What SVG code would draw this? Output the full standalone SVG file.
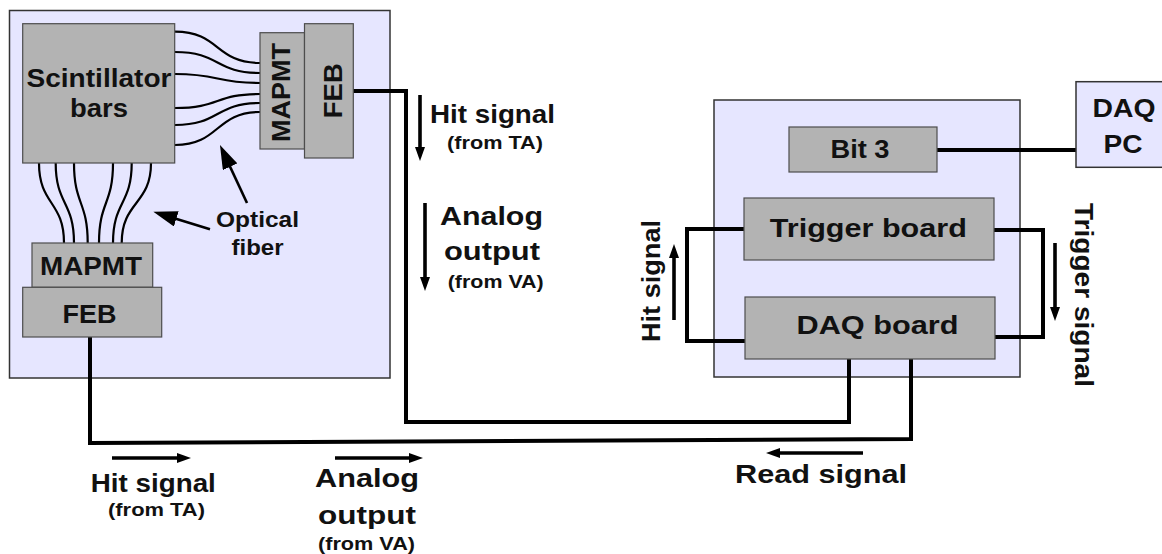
<svg xmlns="http://www.w3.org/2000/svg" width="1162" height="554" viewBox="0 0 1162 554">
<style>
.bg{fill:#ffffff}
.panel{fill:#e6e6ff;stroke:#333333;stroke-width:1.5}
.box{fill:#b3b3b3;stroke:#4d4d4d;stroke-width:1.2}
.wire{fill:none;stroke:#000000;stroke-width:4;stroke-linejoin:miter}
.fiber{fill:none;stroke:#000000;stroke-width:2.2}
.sig{fill:none;stroke:#000000;stroke-width:3.6}
.ptr{fill:none;stroke:#000000;stroke-width:2.6}
text{font-family:"Liberation Sans",Arial,sans-serif;font-weight:bold;fill:#111111;text-anchor:middle}
.lg{font-size:26px}
.sm{font-size:19px}
.md{font-size:22px}
</style>
<defs>
<marker id="ah" viewBox="0 0 14 10" markerWidth="14" markerHeight="10" refX="8" refY="5" orient="auto" markerUnits="userSpaceOnUse">
<path d="M0,0 L14,5 L0,10 z" fill="#000"/>
</marker>
<marker id="bh" viewBox="0 0 24 16" markerWidth="24" markerHeight="16" refX="14" refY="8" orient="auto" markerUnits="userSpaceOnUse">
<path d="M0,0 L24,8 L0,16 z" fill="#000"/>
</marker>
</defs>
<rect class="bg" x="0" y="0" width="1162" height="554"/>

<g id="detector-panel">
<rect class="panel" x="9.5" y="10.5" width="380.5" height="367.5"/>
</g>
<g id="readout-panel">
<rect class="panel" x="714" y="100" width="306" height="277"/>
</g>

<g id="connectors">
<path class="wire" d="M353,91 H406 V422 H849 V359"/>
<path class="wire" d="M90,337 V443 L911,439 V359"/>
<path class="wire" d="M937,150 H1076"/>
<path class="wire" d="M744,229 H687 V341 H745"/>
<path class="wire" d="M994,230 H1043 V337 H995"/>
<g id="fibers-right">
<path class="fiber" d="M175,31.7 C220,31.7 215,63 260,63"/>
<path class="fiber" d="M175,52 C220,52 215,73 260,73"/>
<path class="fiber" d="M175,74 C220,74 215,83 260,83"/>
<path class="fiber" d="M175,108 C220,108 215,94 260,94"/>
<path class="fiber" d="M175,125 C220,125 215,103 260,103"/>
<path class="fiber" d="M175,145 C220,145 215,112 260,112"/>
</g>
<g id="fibers-bottom">
<path class="fiber" d="M39,163 C39,205 64,201 64,243"/>
<path class="fiber" d="M55.7,163 C55.7,205 74,201 74,243"/>
<path class="fiber" d="M74,163 C74,205 87.7,201 87.7,243"/>
<path class="fiber" d="M113,163 C113,205 99,201 99,243"/>
<path class="fiber" d="M131.7,163 C131.7,205 113,201 113,243"/>
<path class="fiber" d="M151,163 C151,205 121.7,201 121.7,243"/>
</g>
<g id="signal-arrows">
<path class="sig" d="M420,95 V155" marker-end="url(#ah)"/>
<path class="sig" d="M425,203 V285" marker-end="url(#ah)"/>
<path class="sig" d="M112,458 H185" marker-end="url(#ah)"/>
<path class="sig" d="M335,458 H417" marker-end="url(#ah)"/>
<path class="sig" d="M863,453 H772" marker-end="url(#ah)"/>
<path class="sig" d="M674,320 V250" marker-end="url(#ah)"/>
<path class="sig" d="M1055,243 V315" marker-end="url(#ah)"/>
<path class="ptr" d="M247,203 L224.2,154.1" marker-end="url(#bh)"/>
<path class="ptr" d="M210,229.3 L162.9,214.7" marker-end="url(#bh)"/>
</g>
</g>

<g id="scintillator">
<rect class="box" x="22.7" y="23.7" width="152" height="139.3"/>
<text class="lg" x="99" y="87" textLength="145" lengthAdjust="spacingAndGlyphs">Scintillator</text>
<text class="lg" x="99" y="117" textLength="58" lengthAdjust="spacingAndGlyphs">bars</text>
</g>
<g id="mapmt-right">
<rect class="box" x="260" y="32.7" width="44.5" height="116.3"/>
<text class="lg" transform="translate(290,92.5) rotate(-90)" x="0" y="0" textLength="99" lengthAdjust="spacingAndGlyphs">MAPMT</text>
</g>
<g id="feb-right">
<rect class="box" x="304.5" y="23.7" width="48.8" height="134.3"/>
<text class="lg" transform="translate(341.5,90.7) rotate(-90)" x="0" y="0" textLength="55" lengthAdjust="spacingAndGlyphs">FEB</text>
</g>
<g id="mapmt-bottom">
<rect class="box" x="32" y="243" width="120.7" height="44.3"/>
<text class="lg" x="91" y="275" textLength="102" lengthAdjust="spacingAndGlyphs">MAPMT</text>
</g>
<g id="feb-bottom">
<rect class="box" x="22.7" y="287.3" width="139" height="49.7"/>
<text class="lg" x="89.5" y="322.7" textLength="54" lengthAdjust="spacingAndGlyphs">FEB</text>
</g>
<g id="optical-fiber-label">
<text class="md" x="257.5" y="226.7" textLength="83" lengthAdjust="spacingAndGlyphs">Optical</text>
<text class="md" x="257.5" y="255" textLength="52" lengthAdjust="spacingAndGlyphs">fiber</text>
</g>

<g id="bit3">
<rect class="box" x="789" y="127" width="148" height="45"/>
<text class="lg" x="860" y="158" textLength="59" lengthAdjust="spacingAndGlyphs">Bit 3</text>
</g>
<g id="trigger-board">
<rect class="box" x="744" y="198" width="250" height="62"/>
<text class="lg" x="868.3" y="236.7" textLength="197" lengthAdjust="spacingAndGlyphs">Trigger board</text>
</g>
<g id="daq-board">
<rect class="box" x="745" y="297" width="250" height="62"/>
<text class="lg" x="877.5" y="334.3" textLength="162" lengthAdjust="spacingAndGlyphs">DAQ board</text>
</g>
<g id="daq-pc">
<rect class="panel" x="1076" y="81.7" width="100" height="85.6"/>
<text class="lg" x="1124" y="116.7" textLength="63" lengthAdjust="spacingAndGlyphs">DAQ</text>
<text class="lg" x="1123" y="153" textLength="39" lengthAdjust="spacingAndGlyphs">PC</text>
</g>

<g id="labels">
<text class="lg" x="492.5" y="123" textLength="125" lengthAdjust="spacingAndGlyphs">Hit signal</text>
<text class="sm" x="495" y="149" textLength="96" lengthAdjust="spacingAndGlyphs">(from TA)</text>
<text class="lg" x="491.5" y="225" textLength="103" lengthAdjust="spacingAndGlyphs">Analog</text>
<text class="lg" x="492" y="260" textLength="96" lengthAdjust="spacingAndGlyphs">output</text>
<text class="sm" x="495.7" y="288" textLength="96" lengthAdjust="spacingAndGlyphs">(from VA)</text>
<text class="lg" x="153.3" y="491.7" textLength="125" lengthAdjust="spacingAndGlyphs">Hit signal</text>
<text class="sm" x="156.5" y="516" textLength="97" lengthAdjust="spacingAndGlyphs">(from TA)</text>
<text class="lg" x="367" y="487" textLength="104" lengthAdjust="spacingAndGlyphs">Analog</text>
<text class="lg" x="367" y="524" textLength="98" lengthAdjust="spacingAndGlyphs">output</text>
<text class="sm" x="366.5" y="550" textLength="97" lengthAdjust="spacingAndGlyphs">(from VA)</text>
<text class="lg" x="821" y="483" textLength="172" lengthAdjust="spacingAndGlyphs">Read signal</text>
<text class="lg" transform="translate(660,281) rotate(-90)" x="0" y="0" textLength="122" lengthAdjust="spacingAndGlyphs">Hit signal</text>
<text class="lg" transform="translate(1075,295) rotate(90)" x="0" y="0" textLength="184" lengthAdjust="spacingAndGlyphs">Trigger signal</text>
</g>
</svg>
